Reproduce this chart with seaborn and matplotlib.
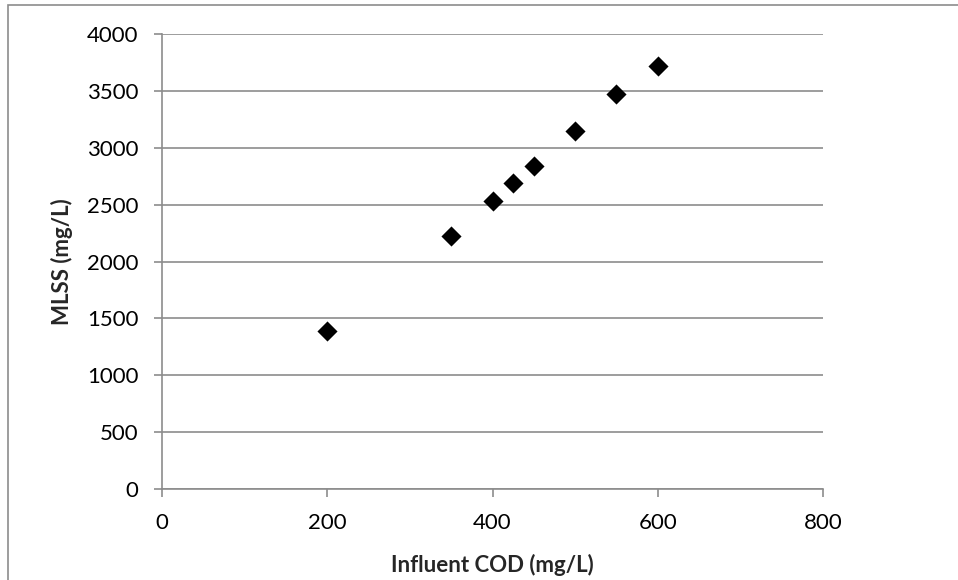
import matplotlib
matplotlib.use("Agg")
import matplotlib.pyplot as plt
import seaborn as sns
import pandas as pd
from matplotlib.patches import Rectangle

# 데이터
influent_cod = [200, 350, 400, 425, 450, 500, 550, 600]
mlss = [1390, 2220, 2535, 2690, 2840, 3145, 3470, 3720]
x_ticks = [0, 200, 400, 600, 800]
y_ticks = [0, 500, 1000, 1500, 2000, 2500, 3000, 3500, 4000]

df = pd.DataFrame({"Influent COD (mg/L)": influent_cod, "MLSS (mg/L)": mlss})

sns.set_theme(style="white")
plt.rcParams['font.family'] = ['Lato', 'DejaVu Sans']

grey = "#8c8c8c"

fig = plt.figure(figsize=(9.58, 5.8), dpi=100)
ax = fig.add_axes([162 / 958, 91 / 580, 661 / 958, 455 / 580])

# 외곽 테두리
fig.patches.append(Rectangle((8 / 958, -0.1), 1.2, 1.1 - 5 / 580, transform=fig.transFigure,
                             fill=False, edgecolor=grey, linewidth=1.2, zorder=0))

sns.scatterplot(data=df, x="Influent COD (mg/L)", y="MLSS (mg/L)", ax=ax,
                marker="D", s=105, color="black", linewidth=0, zorder=3)

ax.set_xlim(0, 800)
ax.set_ylim(0, 4000)
ax.set_xticks(x_ticks)
ax.set_yticks(y_ticks)
ax.grid(axis="y", color=grey, linewidth=1.2)
ax.grid(axis="x", visible=False)
ax.set_axisbelow(True)

for side in ["top", "right"]:
    ax.spines[side].set_visible(False)
for side in ["left", "bottom"]:
    ax.spines[side].set_color(grey)
    ax.spines[side].set_linewidth(1.2)

ax.tick_params(axis="both", which="major", direction="out", length=6, width=1.2,
               color=grey, labelsize=16, labelcolor="black", pad=11,
               bottom=True, left=True)

ax.set_xlabel("Influent COD (mg/L)", fontsize=16, fontweight="bold", labelpad=15)
ax.set_ylabel("MLSS (mg/L)", fontsize=16, fontweight="bold", labelpad=10)

fig.savefig("out.png", dpi=100)
